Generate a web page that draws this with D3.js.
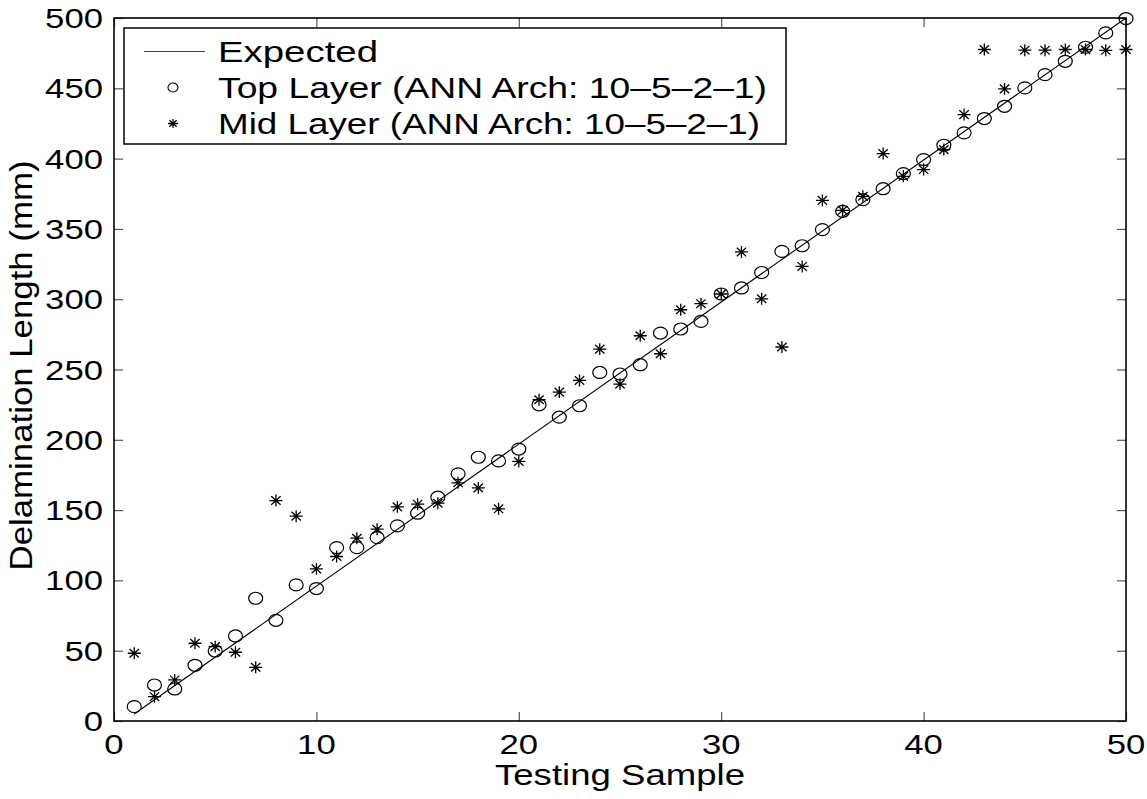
<!DOCTYPE html>
<html>
<head>
<meta charset="utf-8">
<script src="https://cdn.jsdelivr.net/npm/d3@7/dist/d3.min.js"></script>
<style>
  html, body { margin: 0; padding: 0; background: #fff; }
  svg { display: block; }
  text { font-family: "Liberation Sans", Arial, Helvetica, sans-serif; fill: #000; }
</style>
</head>
<body>
<svg id="chart" width="1147" height="799"></svg>
<script>
// ---- data ----
const samples = d3.range(1, 51);
const topLayer = [10.2, 25.6, 22.8, 39.6, 49.8, 60.5, 87.3, 71.6, 96.8, 94.2,
  123.3, 123.3, 130.4, 138.8, 147.8, 159.2, 175.8, 187.6, 185, 193.4,
  224.9, 216.1, 224.2, 247.9, 246.8, 253.4, 275.9, 278.8, 284.2, 303.7,
  308, 319, 334, 338, 349.5, 362.5, 370.8, 378.6, 389.3, 399.3,
  409.5, 418.3, 428.5, 437.2, 450.3, 459.7, 469.2, 479.2, 489.4, 499.6];
const midLayer = [48.2, 17.3, 29.2, 55.3, 52.9, 48.9, 38.2, 156.8, 145.7, 108.2,
  117, 130, 136.4, 152.3, 154.2, 154.9, 169.4, 165.8, 150.9, 184.6,
  228.5, 233.9, 242.2, 264.5, 239.6, 274, 261.2, 292.5, 296.8, 303.7,
  333.6, 300.3, 266, 323.3, 370.3, 363.2, 373.2, 403.6, 387.4, 392.2,
  406.4, 431.3, 477.6, 449.6, 477.1, 477.1, 477.6, 477.6, 477, 477.6];
const expectedX = [1, 50];
const expectedY = [5, 500];
const xTicks = [0, 10, 20, 30, 40, 50];
const yTicks = [0, 50, 100, 150, 200, 250, 300, 350, 400, 450, 500];
const legendLabels = ["Expected", "Top Layer (ANN Arch: 10\u20135\u20132\u20131)", "Mid Layer (ANN Arch: 10\u20135\u20132\u20131)"];
const xTitle = "Testing Sample";
const yTitle = "Delamination Length (mm)";

// ---- layout ----
const L = 114, R = 1126, T = 18, B = 721;
const svg = d3.select("#chart");
const x = d3.scaleLinear().domain([0, 50]).range([L, R]);
const y = d3.scaleLinear().domain([0, 500]).range([B, T]);
const SX = 1.24; // horizontal glyph stretch seen in the reference

// ticks (inward, mirrored)
const tickLen = 9;
const gAxes = svg.append("g");
const mk = (ax, vals) => ax.tickValues(vals).tickSizeInner(-tickLen).tickSizeOuter(0).tickFormat("");
gAxes.append("g").attr("transform", `translate(0,${B})`).call(mk(d3.axisBottom(x), xTicks));
gAxes.append("g").attr("transform", `translate(0,${T})`).call(mk(d3.axisTop(x), xTicks));
gAxes.append("g").attr("transform", `translate(${L},0)`).call(mk(d3.axisLeft(y), yTicks));
gAxes.append("g").attr("transform", `translate(${R},0)`).call(mk(d3.axisRight(y), yTicks));
gAxes.selectAll(".domain").remove();
gAxes.selectAll(".tick line").attr("stroke", "#555").attr("stroke-width", 1.2);

// frame
svg.append("rect").attr("x", L).attr("y", T).attr("width", R - L).attr("height", B - T)
  .attr("fill", "none").attr("stroke", "#000").attr("stroke-width", 1.6);

// tick labels
svg.append("g").selectAll("text").data(yTicks).join("text")
  .attr("transform", d => `translate(103,${y(d) + 10}) scale(${SX},1)`)
  .attr("text-anchor", "end").attr("font-size", 28)
  .text(d => d);
svg.append("g").selectAll("text").data(xTicks).join("text")
  .attr("transform", d => `translate(${x(d)},754) scale(${SX},1)`)
  .attr("text-anchor", "middle").attr("font-size", 28)
  .text(d => d);

// axis titles
svg.append("text").attr("x", (L + R) / 2).attr("y", 785).attr("text-anchor", "middle")
  .attr("font-size", 29).attr("textLength", 250).attr("lengthAdjust", "spacingAndGlyphs").text(xTitle);
svg.append("text").attr("transform", `translate(32,${(T + B) / 2 - 4}) rotate(-90)`).attr("text-anchor", "middle")
  .attr("font-size", 31).attr("textLength", 410).attr("lengthAdjust", "spacingAndGlyphs").text(yTitle);

// expected line
const line = d3.line().x(d => x(d[0])).y(d => y(d[1]));
svg.append("path").datum(expectedX.map((v, i) => [v, expectedY[i]]))
  .attr("d", line).attr("fill", "none").attr("stroke", "#000").attr("stroke-width", 1.1);

// markers
function star(g, cx, cy, r) {
  const rx = r, ry = r * 0.92;
  const d = `M${cx - rx},${cy}L${cx + rx},${cy}M${cx},${cy - ry}L${cx},${cy + ry}` +
    `M${cx - rx * 0.72},${cy - ry * 0.72}L${cx + rx * 0.72},${cy + ry * 0.72}` +
    `M${cx - rx * 0.72},${cy + ry * 0.72}L${cx + rx * 0.72},${cy - ry * 0.72}`;
  g.append("path").attr("d", d).attr("stroke", "#000").attr("stroke-width", 1.3).attr("fill", "none");
}
const gTop = svg.append("g");
gTop.selectAll("ellipse").data(samples).join("ellipse")
  .attr("cx", d => x(d)).attr("cy", (d, i) => y(topLayer[i]))
  .attr("rx", 7).attr("ry", 6).attr("fill", "none").attr("stroke", "#000").attr("stroke-width", 1.2);
const gMid = svg.append("g");
samples.forEach((s, i) => star(gMid, x(s), y(midLayer[i]), 6.5));

// legend
const lg = svg.append("g");
lg.append("rect").attr("x", 124).attr("y", 28).attr("width", 662).attr("height", 116)
  .attr("fill", "#fff").attr("stroke", "#000").attr("stroke-width", 1.5);
const rowY = [51.5, 87.5, 123.5];
lg.append("line").attr("x1", 144).attr("x2", 205).attr("y1", rowY[0]).attr("y2", rowY[0])
  .attr("stroke", "#444").attr("stroke-width", 1.1);
lg.append("ellipse").attr("cx", 173).attr("cy", rowY[1]).attr("rx", 5).attr("ry", 4.5)
  .attr("fill", "none").attr("stroke", "#000").attr("stroke-width", 1.1);
star(lg, 173, rowY[2], 5);
const legendWidths = [160, 549, 542];
lg.selectAll("text.lab").data(legendLabels).join("text").attr("class", "lab")
  .attr("x", 218).attr("y", (d, i) => rowY[i] + 10)
  .attr("font-size", 29).attr("textLength", (d, i) => legendWidths[i]).attr("lengthAdjust", "spacingAndGlyphs")
  .text(d => d);
</script>
</body>
</html>
